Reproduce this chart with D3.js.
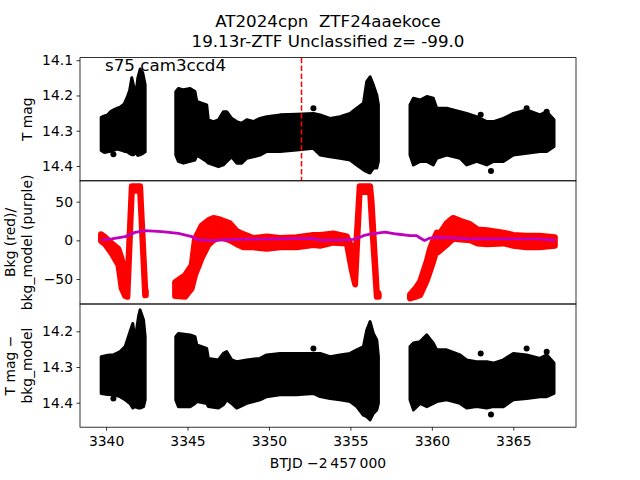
<!DOCTYPE html>
<html><head><meta charset="utf-8">
<script src="https://cdn.jsdelivr.net/npm/d3@7"></script>
<style>body{margin:0;background:#fff} text{font-family:"DejaVu Sans",sans-serif;fill:#000}</style>
</head><body><svg id="c" width="640" height="480"></svg>
<script>
// ---------------- DATA ----------------
const titleLines = ["AT2024cpn  ZTF24aaekoce", "19.13r-ZTF Unclassified z= -99.0"];
const sectorLabel = "s75 cam3ccd4";
const xTicks = [3340, 3345, 3350, 3355, 3360, 3365];
const y1Ticks = [14.1, 14.2, 14.3, 14.4];
const y2Ticks = [50, 0, -50];
const y3Ticks = [14.2, 14.3, 14.4];
const markerTime = 3352.0;

// Panel 1: T mag envelope (time, bright edge, faint edge)
const lc1T = [3339.70,3339.90,3340.10,3340.30,3340.50,3340.70,3340.90,3341.10,3341.30,3341.45,3341.58,3341.70,3341.82,3341.95,3342.10,3342.25,3342.40,
  3344.28,3344.44,3344.75,3345.16,3345.46,3345.57,3345.87,3346.18,3346.28,3346.59,3346.90,3347.20,3347.41,3347.71,3348.02,3348.33,3348.64,3349.04,3349.45,3349.86,3350.68,3351.70,3352.73,3353.14,3353.75,3354.36,3354.98,3355.39,3355.80,3356.00,3356.21,3356.41,3356.62,3356.72,
  3358.66,3358.87,3359.28,3359.69,3360.09,3360.30,3360.91,3361.73,3362.14,3362.75,3363.37,3363.78,3364.39,3365.00,3365.82,3366.64,3367.05,3367.50];
const lc1Top = [14.262,14.258,14.255,14.245,14.240,14.236,14.232,14.225,14.205,14.185,14.150,14.175,14.200,14.150,14.125,14.135,14.170,
  14.189,14.180,14.184,14.180,14.189,14.217,14.222,14.227,14.269,14.274,14.269,14.246,14.246,14.265,14.274,14.279,14.269,14.274,14.265,14.260,14.255,14.253,14.251,14.255,14.265,14.260,14.251,14.236,14.222,14.161,14.147,14.170,14.199,14.227,
  14.227,14.208,14.213,14.203,14.208,14.236,14.236,14.246,14.251,14.260,14.274,14.274,14.265,14.251,14.241,14.255,14.246,14.269];
const lc1Bot = [14.356,14.362,14.360,14.358,14.355,14.352,14.355,14.358,14.360,14.365,14.368,14.368,14.360,14.370,14.368,14.365,14.360,
  14.369,14.387,14.392,14.387,14.383,14.369,14.378,14.387,14.392,14.397,14.402,14.397,14.387,14.374,14.392,14.392,14.378,14.374,14.369,14.359,14.359,14.355,14.350,14.369,14.374,14.378,14.383,14.397,14.411,14.416,14.420,14.406,14.406,14.387,
  14.369,14.397,14.387,14.387,14.397,14.378,14.369,14.378,14.397,14.387,14.397,14.387,14.387,14.369,14.364,14.359,14.359,14.345];
const lc1OutT = [3340.45,3352.73,3363.00,3363.63,3365.82,3367.05];
const lc1OutM = [14.367,14.236,14.255,14.414,14.236,14.246];

// Panel 2: background flux (red) band and background model (purple)
const bkgT = [3339.69,3339.94,3340.35,3340.76,3340.96,3341.17,3341.31,3341.58,3342.09,3342.40,3342.44,
  3344.24,3344.85,3345.26,3345.46,3345.87,3346.28,3346.59,3347.00,3347.61,3348.02,3348.43,3349.04,3349.86,3350.68,3351.70,3352.73,3353.14,3353.95,3354.78,3355.08,3355.29,3355.57,3356.21,3356.30,3356.62,3356.70,3356.72,3356.74,
  3358.66,3359.00,3359.28,3359.69,3359.90,3360.09,3360.30,3360.40,3360.90,3361.30,3361.80,3362.35,3362.80,3363.40,3364.40,3365.00,3365.80,3366.60,3367.55];
const bkgLo = [-1,-5,-17,-32,-62,-72,-73,64,64,-71,-71,
  -72,-73,-62,-45,-23,-6,0,4,0,-5,-9,-9,-11,-9,-9,-6,-7,-3,-4,-38,-57,64,62,30,-73,-73,-73,-73,
  -75,-73,-71,-52,-39,-27,-12,-15,-6,2,1,0,-4,-5,-4,-7,-9,-9,-7];
const bkgHi = [8,4,-4,-11,-24,-45,-57,70,70,-62,-66,
  -54,-45,-32,2,19,26,29,27,22,12,8,3,5,3,4,7,7,9,5,-9,-31,70,70,50,-66,-68,-68,-70,
  -70,-62,-53,-27,-10,0,10,6,22,29,25,21,14,13,10,7,6,6,4];
const modelT = [3339.69,3340.35,3341.17,3341.78,3342.39,3343.42,3344.44,3345.26,3345.67,3346.49,3347.30,3348.60,3350.68,3352.70,3353.14,3354.37,3355.18,3355.59,3355.80,3356.20,3357.13,3357.85,3358.66,3359.07,3359.28,3359.55,3359.89,3360.30,3360.90,3362.35,3364.39,3366.44,3367.60];
const modelV = [0.5,1.8,4.8,10.3,12.5,11.2,9.0,4.8,0.8,-0.4,0.8,1.5,2.0,2.6,0.4,0.4,1.3,4.0,6.0,8.0,10.6,8.2,6.0,6.0,3.0,-0.2,3.0,4.0,3.5,2.0,2.0,2.0,0.4];

// Panel 3: T mag - bkg_model envelope
const lc3T = [3339.70,3340.10,3340.45,3340.86,3341.17,3341.47,3341.64,3341.78,3341.99,3342.09,3342.30,3342.40,
  3344.28,3344.44,3345.16,3345.46,3345.57,3346.18,3346.28,3346.90,3347.20,3347.41,3347.71,3348.02,3348.64,3349.45,3349.86,3350.68,3351.70,3352.73,3353.14,3353.75,3354.36,3354.98,3355.39,3355.80,3356.00,3356.21,3356.41,3356.62,3356.72,
  3358.66,3358.87,3359.28,3359.69,3360.09,3360.30,3360.91,3361.73,3362.14,3362.75,3363.37,3363.78,3364.39,3365.00,3365.82,3366.64,3367.05,3367.50];
const lc3Top = [14.271,14.267,14.266,14.257,14.243,14.201,14.178,14.224,14.159,14.140,14.168,14.215,
  14.215,14.206,14.210,14.215,14.238,14.248,14.276,14.280,14.262,14.257,14.280,14.285,14.280,14.276,14.266,14.262,14.262,14.262,14.262,14.271,14.266,14.262,14.252,14.243,14.197,14.173,14.206,14.224,14.271,
  14.243,14.233,14.229,14.210,14.233,14.252,14.252,14.266,14.280,14.285,14.285,14.289,14.280,14.262,14.266,14.276,14.266,14.289];
const lc3Bot = [14.374,14.377,14.378,14.383,14.392,14.402,14.415,14.411,14.415,14.415,14.411,14.392,
  14.392,14.411,14.411,14.402,14.397,14.402,14.411,14.415,14.406,14.392,14.402,14.415,14.402,14.392,14.383,14.378,14.378,14.374,14.383,14.388,14.392,14.397,14.411,14.435,14.439,14.448,14.430,14.420,14.402,
  14.392,14.420,14.402,14.411,14.402,14.397,14.392,14.402,14.415,14.411,14.415,14.411,14.411,14.392,14.388,14.383,14.383,14.374];
const lc3OutT = [3340.45,3352.73,3363.00,3363.63,3365.82,3367.05];
const lc3OutM = [14.388,14.248,14.262,14.433,14.248,14.257];

// ---------------- CHART ----------------
const svg = d3.select("#c");
const L = 80, R = 576;
const P = [[57.6,180.8],[180.8,304],[304,427.2]];
const FS = 13.9;

const x = d3.scaleLinear().domain([3338.40, 3368.85]).range([L, R]);
const y1 = d3.scaleLinear().domain([14.0926, 14.442]).range([P[0][0], P[0][1]]);
const y2 = d3.scaleLinear().domain([77, -82.3]).range([P[1][0], P[1][1]]);
const y3 = d3.scaleLinear().domain([14.1235, 14.4686]).range([P[2][0], P[2][1]]);

const defs = svg.append("defs");
P.forEach((p,i)=>{
  defs.append("clipPath").attr("id","clip"+i).append("rect")
    .attr("x",L).attr("y",p[0]).attr("width",R-L).attr("height",p[1]-p[0]);
});

// split a time series into observing segments wherever the time gap exceeds 1.5 days
function segments(T){
  const out = []; let cur = [];
  T.forEach((t,i)=>{
    if (i>0 && t - T[i-1] > 1.5){ out.push(cur); cur = []; }
    cur.push(i);
  });
  out.push(cur);
  return out;
}

function envelope(g, T, top, bot, ys, color, sw){
  const area = d3.area().x(i=>x(T[i])).y0(i=>ys(bot[i])).y1(i=>ys(top[i]));
  segments(T).forEach(idx=>{
    g.append("path").attr("d",area(idx)).attr("fill",color)
      .attr("stroke",color).attr("stroke-width",sw).attr("stroke-linejoin","round");
  });
}

// Panel 1
const g1 = svg.append("g").attr("clip-path","url(#clip0)");
envelope(g1, lc1T, lc1Top, lc1Bot, y1, "#000", 3);
g1.selectAll("circle").data(lc1OutT).join("circle")
  .attr("cx",d=>x(d)).attr("cy",(d,i)=>y1(lc1OutM[i])).attr("r",3).attr("fill","#000");
g1.append("line").attr("x1",x(markerTime)).attr("x2",x(markerTime))
  .attr("y1",P[0][0]).attr("y2",P[0][1]).attr("stroke","#ff0000")
  .attr("stroke-width",1.5).attr("stroke-dasharray","5.55 2.4");

// Panel 2
const g2 = svg.append("g").attr("clip-path","url(#clip1)");
envelope(g2, bkgT, bkgHi, bkgLo, y2, "#ff0000", 6);
g2.append("path").attr("d", d3.line().x(d=>x(d)).y((d,i)=>y2(modelV[i]))(modelT))
  .attr("fill","none").attr("stroke","#bf00bf").attr("stroke-width",2.8).attr("stroke-linejoin","round");

// Panel 3
const g3 = svg.append("g").attr("clip-path","url(#clip2)");
envelope(g3, lc3T, lc3Top, lc3Bot, y3, "#000", 3);
g3.selectAll("circle").data(lc3OutT).join("circle")
  .attr("cx",d=>x(d)).attr("cy",(d,i)=>y3(lc3OutM[i])).attr("r",3).attr("fill","#000");

// Text in panel 1
svg.append("text").attr("x",105).attr("y",70.5).attr("font-size",16.7).text(sectorLabel);

// Frames
P.forEach(p=>{
  svg.append("rect").attr("x",L).attr("y",p[0]).attr("width",R-L).attr("height",p[1]-p[0])
    .attr("fill","none").attr("stroke","#000").attr("stroke-width",0.8);
});

// Axes
const fmt1 = d=>d3.format(".1f")(d);
const fmtInt = d=>String(d).replace("-","\u2212");
function styleAxis(sel){
  sel.select(".domain").remove();
  sel.selectAll(".tick line").attr("stroke","#000").attr("stroke-width",0.8);
  sel.selectAll(".tick text").attr("font-size",FS).attr("font-family","DejaVu Sans").attr("fill","#000");
}
svg.append("g").attr("transform",`translate(${L},0)`)
  .call(d3.axisLeft(y1).tickValues(y1Ticks).tickFormat(fmt1).tickSize(3.5).tickPadding(3.5)).call(styleAxis);
svg.append("g").attr("transform",`translate(${L},0)`)
  .call(d3.axisLeft(y2).tickValues(y2Ticks).tickFormat(fmtInt).tickSize(3.5).tickPadding(3.5)).call(styleAxis);
svg.append("g").attr("transform",`translate(${L},0)`)
  .call(d3.axisLeft(y3).tickValues(y3Ticks).tickFormat(fmt1).tickSize(3.5).tickPadding(3.5)).call(styleAxis);
svg.append("g").attr("transform",`translate(0,${P[2][1]})`)
  .call(d3.axisBottom(x).tickValues(xTicks).tickFormat(d=>String(d)).tickSize(3.5).tickPadding(5)).call(styleAxis);

// Titles and labels
svg.append("text").attr("x",(L+R)/2).attr("y",26.5).attr("text-anchor","middle")
  .attr("font-size",16.7).style("white-space","pre").text(titleLines[0]);
svg.append("text").attr("x",(L+R)/2).attr("y",47).attr("text-anchor","middle")
  .attr("font-size",16.7).text(titleLines[1]);
svg.append("text").attr("x",(L+R)/2).attr("y",467.5).attr("text-anchor","middle")
  .attr("font-size",FS).text("BTJD \u22122\u2009457\u2009000");

function ylabel(lines, cy){
  lines.forEach((s,i)=>{
    const bx = 31.5 - 16.2*(lines.length-1-i);
    svg.append("text").attr("transform",`translate(${bx},${cy}) rotate(-90)`)
      .attr("text-anchor","middle").attr("font-size",FS).text(s);
  });
}
ylabel(["T mag"], (P[0][0]+P[0][1])/2);
ylabel(["Bkg (red)/","bkg_model (purple)"], (P[1][0]+P[1][1])/2);
ylabel(["T mag \u2212","bkg_model"], (P[2][0]+P[2][1])/2);
</script></body></html>
